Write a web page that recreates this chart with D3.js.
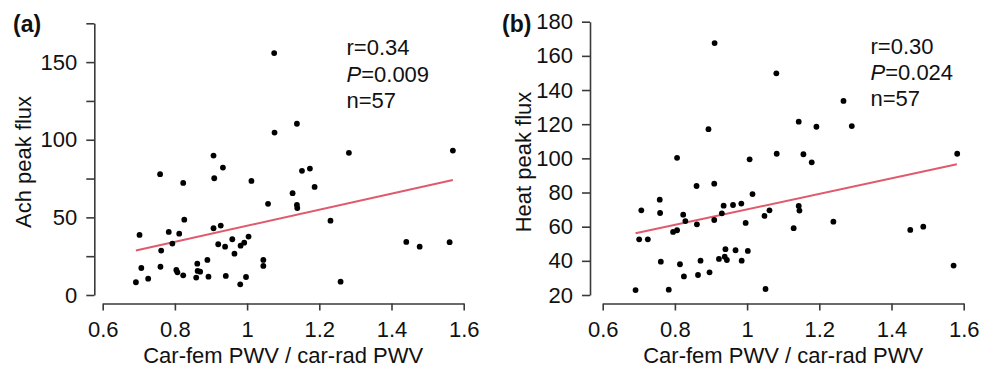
<!DOCTYPE html>
<html>
<head>
<meta charset="utf-8">
<script src="https://cdn.jsdelivr.net/npm/d3@7"></script>
<style>
    body { margin: 0; background: #fff; }
    svg { display: block; font-family: "Liberation Sans", Arial, sans-serif; }
    .axis path, .axis line { stroke: #3a3a3a; stroke-width: 1.6; }
    .axis text { font-size: 22px; fill: #111; }
</style>
</head>
<body>
<svg id="chart" width="989" height="371"></svg>
<script>
// values

// (a) Ach peak flux vs car-fem / car-rad PWV
const achRatio = [1.075, 1.076, 0.907, 0.933, 0.759, 0.823, 0.909, 1.012, 1.058, 0.702,
    0.783, 0.812, 0.826, 0.793, 0.762, 0.907, 0.927, 0.92, 0.939, 0.959,
    0.965, 0.982, 0.992, 1.004, 1.045, 1.045, 0.707, 0.76, 0.692, 0.726,
    0.804, 0.807, 0.823, 0.862, 0.863, 0.859, 0.87, 0.89, 0.893, 0.941,
    0.981, 0.997, 1.138, 1.282, 1.57, 1.152, 1.174, 1.187, 1.126, 1.138,
    1.139, 1.231, 1.441, 1.478, 1.561, 1.259];
const achFlux = [155.8, 104.6, 89.8, 82.1, 77.8, 72.2, 75.2, 73.5, 58.7, 38.7,
    40.6, 39.5, 48.5, 33.1, 28.6, 43, 44.7, 32.7, 31.1, 35.9,
    26.6, 31.8, 33.7, 37.6, 22.6, 18.7, 17.4, 18.2, 8.2, 10.5,
    16.1, 14.6, 12.7, 20.2, 15.5, 11.2, 15, 22.6, 11.8, 12.3,
    6.9, 11.6, 110.3, 91.6, 93, 80, 81.4, 69.6, 65.6, 58,
    56, 47.9, 34.2, 31.1, 34, 8.6];
const achFitX = [0.692, 1.57];
const achFitY = [28.6, 74.1];
const achStats = ["r=0.34", "=0.009", "n=57"];
const achYTicks = [0, 25, 50, 75, 100, 125, 150, 175];

// (b) Heat peak flux vs car-fem / car-rad PWV
const heatRatio = [0.910, 1.081, 0.893, 0.806, 1.007, 1.082, 0.860, 0.909, 1.015, 0.758,
    0.707, 0.759, 0.823, 0.829, 0.861, 0.795, 0.806, 0.701, 0.725, 0.909,
    0.930, 0.935, 0.961, 0.984, 0.996, 1.048, 1.062, 0.940, 0.968, 1.002,
    0.922, 0.938, 0.944, 0.985, 0.761, 0.814, 0.871, 0.825, 0.864, 0.896,
    0.691, 0.783, 1.051, 1.267, 1.143, 1.192, 1.290, 1.156, 1.179, 1.582,
    1.143, 1.145, 1.129, 1.239, 1.452, 1.488, 1.572];
const heatFlux = [167.5, 149.8, 117.1, 100.3, 99.4, 102.7, 83.8, 85.2, 79.1, 75.8,
    69.6, 68, 67, 63.3, 61.4, 56.9, 57.9, 52.6, 52.6, 63.9,
    67.8, 72.3, 72.7, 73.5, 62.2, 66.3, 69.6, 46.8, 46.2, 45.8,
    41.1, 42.4, 40.5, 40.1, 39.5, 38, 40.1, 30.9, 31.7, 33.3,
    22.9, 23.1, 23.5, 133.6, 121.5, 118.5, 118.9, 102.4, 97.7, 102.7,
    72.1, 69.4, 59.1, 62.9, 58.1, 60, 37.2];
const heatFitX = [0.691, 1.581];
const heatFitY = [56.1, 96.5];
const heatStats = ["r=0.30", "=0.024", "n=57"];
const heatYTicks = [20, 40, 60, 80, 100, 120, 140, 160, 180];

const xTicks = [0.6, 0.8, 1.0, 1.2, 1.4, 1.6];
const xTickLabels = ["0.6", "0.8", "1", "1.2", "1.4", "1.6"];
const xTitle = "Car-fem PWV / car-rad PWV";

const svg = d3.select("#chart");

function draw_panel(p) {
    let g = svg.append("g");

    let x = d3.scaleLinear().domain([0.6, 1.6]).range([p.left, p.left + 361]);
    let y = d3.scaleLinear().domain(p.yDomain).range([295, p.yTop]);

    // y axis, ticks every step, labels only where asked
    g.append("g")
        .attr("class", "axis")
        .attr("transform", "translate(" + p.yAxisX + ",0)")
        .call(d3.axisLeft(y)
            .tickValues(p.yTicks)
            .tickSize(8)
            .tickSizeOuter(0)
            .tickPadding(9)
            .tickFormat(d => (d % p.labelEvery === 0 ? d : "")));

    // x axis sits a little below the plot, detached from the y axis
    g.append("g")
        .attr("class", "axis")
        .attr("transform", "translate(0,303.5)")
        .call(d3.axisBottom(x)
            .tickValues(xTicks)
            .tickSize(7)
            .tickSizeOuter(0)
            .tickPadding(11)
            .tickFormat((d, i) => xTickLabels[i]));

    g.selectAll(".axis .domain").attr("fill", "none");

    g.append("text")
        .attr("x", (x.range()[0] + x.range()[1]) / 2)
        .attr("y", 363)
        .attr("text-anchor", "middle")
        .style("font-size", "22px")
        .attr("fill", "#111")
        .text(xTitle);

    g.append("text")
        .attr("transform", "translate(" + p.yTitleX + ",162) rotate(-90)")
        .attr("text-anchor", "middle")
        .attr("dy", "0.35em")
        .style("font-size", "22px")
        .attr("fill", "#111")
        .text(p.yTitle);

    g.append("text")
        .attr("x", p.tagX)
        .attr("y", 32)
        .style("font-size", "23px")
        .style("font-weight", "bold")
        .attr("fill", "#111")
        .text(p.tag);

    // regression line
    g.append("line")
        .attr("x1", x(p.fitX[0]))
        .attr("y1", y(p.fitY[0]))
        .attr("x2", x(p.fitX[1]))
        .attr("y2", y(p.fitY[1]))
        .attr("stroke", "#e05a6d")
        .attr("stroke-width", 2);

    g.selectAll("circle.dot")
        .data(p.xs.map((v, i) => [v, p.ys[i]]))
        .join("circle")
        .classed("dot", true)
        .attr("cx", d => x(d[0]))
        .attr("cy", d => y(d[1]))
        .attr("r", 2.9)
        .attr("fill", "#000");

    // r / P / n block
    let st = g.append("g").style("font-size", "22px").attr("fill", "#111");
    st.append("text").attr("x", p.statX).attr("y", p.statY[0]).text(p.stats[0]);
    let pl = st.append("text").attr("x", p.statX).attr("y", p.statY[1]);
    pl.append("tspan").style("font-style", "italic").text("P");
    pl.append("tspan").text(p.stats[1]);
    st.append("text").attr("x", p.statX).attr("y", p.statY[2]).text(p.stats[2]);
}

draw_panel({
    tag: "(a)", tagX: 13,
    left: 102.7, yAxisX: 94.3,
    yDomain: [0, 175], yTop: 23.3, yTicks: achYTicks, labelEvery: 50,
    yTitle: "Ach peak flux", yTitleX: 23,
    xs: achRatio, ys: achFlux, fitX: achFitX, fitY: achFitY,
    stats: achStats, statX: 346.5, statY: [55, 81.5, 107.5]
});

draw_panel({
    tag: "(b)", tagX: 502,
    left: 602.7, yAxisX: 590,
    yDomain: [20, 180], yTop: 21.7, yTicks: heatYTicks, labelEvery: 20,
    yTitle: "Heat peak flux", yTitleX: 523,
    xs: heatRatio, ys: heatFlux, fitX: heatFitX, fitY: heatFitY,
    stats: heatStats, statX: 870.5, statY: [53.5, 80, 105.5]
});
</script>
</body>
</html>
